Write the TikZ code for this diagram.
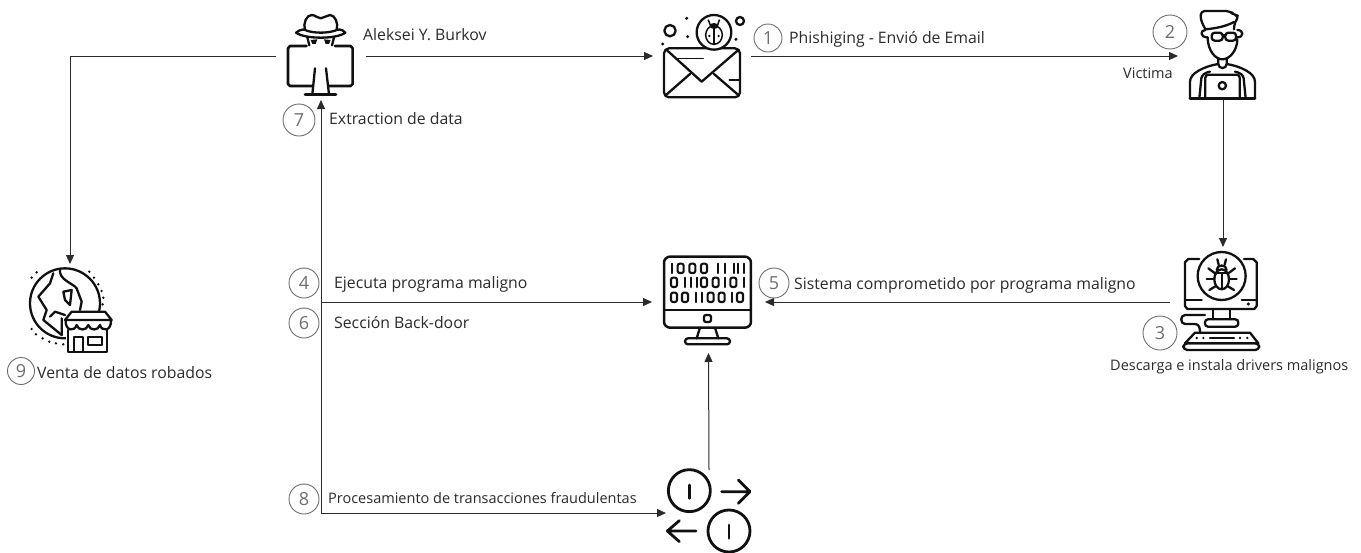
\documentclass[tikz,border=0pt]{standalone}
\usepackage{fontspec}
\setmainfont{Open Sans}
\usetikzlibrary{arrows.meta}
\definecolor{ink}{HTML}{111111}
\definecolor{txt}{HTML}{2B2B2B}
\definecolor{ringc}{HTML}{6E6E6E}
\newcommand{\bz}[2]{\draw[rounded corners=2pt,line width=2.1pt] (#1-9,#2-14) rectangle (#1+9,#2+14);}
\newcommand{\bi}[2]{\draw[line width=2.1pt,line cap=round] (#1,#2-14) -- (#1,#2+14);}
\tikzset{
 anchorbox/.style={inner sep=0pt,outer sep=0pt,minimum width=#1},
 conn/.style={draw=txt,line width=1pt,-{Triangle[length=9pt,width=8pt]}},
 lbl/.style={anchor=base west,inner sep=0pt,text=txt,font=\fontsize{15.8}{18}\selectfont},
 lblsmall/.style={lbl,font=\fontsize{14.5}{17}\selectfont},
 ring/.style={circle,draw=ringc,line width=0.9pt,inner sep=0pt,minimum size=#1,text=ringc,font=\fontsize{18}{19}\selectfont},
 icon/.style={x=0.3333pt,y=-0.3333pt,draw=ink,line width=2.3pt,line join=round,line cap=round},
}
\begin{document}
\begin{tikzpicture}[x=1pt,y=-1pt]
\useasboundingbox (0,0) rectangle (1361,552);
\fill[white] (0,0) rectangle (1361,552);
% anchor nodes for the icons
\node[anchorbox=90pt,minimum height=88pt] (hacker) at (321,56) {};
\node[anchorbox=98pt,minimum height=88pt] (mail) at (702,56) {};
\node[anchorbox=90pt,minimum height=88pt] (victim) at (1223,56) {};
\node[anchorbox=106pt,minimum height=110pt] (bugpc) at (1223,302) {};
\node[anchorbox=113pt,minimum height=102pt] (screen) at (708.5,302) {};
\node[anchorbox=86pt,minimum height=86pt] (trans) at (709,513) {};
\node[anchorbox=80pt,minimum height=72pt] (sale) at (70,300) {};
\coordinate (busmid) at (321,302);
\coordinate (buslow) at (321,513);
% connectors
\draw[conn] (hacker.west) -| (sale.north);
\draw[conn] (hacker.east) -- (mail.west);
\draw[conn] (mail.east) -- (victim.west);
\draw[conn] (victim.south) -- (bugpc.north);
\draw[conn] (bugpc.west) -- (screen.east);
\draw[conn] (busmid) -- (screen.west);
\draw[conn] (buslow) -- (hacker.south);
\draw[conn] (buslow) -- (trans.west);
\draw[conn] (trans.north) -- (screen.south);
% hacker icon
\begin{scope}[shift={(260,0)},icon]
\draw (165,205) -- (157,283) (198,205) -- (207,283);
\draw[line width=2.8pt] (135,283) -- (228,283);
\draw[line width=2.6pt] (157,258) -- (90,258) -- (84,252) -- (84,145) -- (90,138) -- (140,138);
\draw[line width=2.6pt] (207,258) -- (272,258) -- (278,252) -- (278,145) -- (272,138) -- (225,138);
\draw (135,90) .. controls (128,70) and (140,45) .. (155,45) .. controls (168,45) and (170,55) .. (182,55) .. controls (194,55) and (198,45) .. (210,45) .. controls (225,45) and (236,70) .. (230,90);
\draw (108,98) .. controls (125,85) and (135,88) .. (140,92) .. controls (165,100) and (200,100) .. (225,92) .. controls (232,88) and (245,85) .. (256,98) .. controls (230,118) and (135,118) .. (108,98);
\draw (142,112) -- (148,136) (222,112) -- (216,136);
\fill[ink] (152,120) -- (172,118) -- (167,132) -- (157,132) -- cycle (212,120) -- (192,118) -- (197,132) -- (207,132) -- cycle;
\end{scope}
% mail icon
\begin{scope}[shift={(640,0)},icon]
\draw[rounded corners=5pt] (72,145) rectangle (300,292);
\draw (80,150) -- (185,245) -- (295,150);
\draw (78,285) -- (150,222) (295,285) -- (222,222);
\draw[line width=1.5pt] (110,175) -- (190,175) (268,240) -- (300,240);
\draw[fill=white] (222,97) circle (52);
\draw[line width=1.5pt] (222,105) ellipse (25 and 28);
\draw[line width=1.5pt] (222,77) -- (222,133);
\draw[line width=1.5pt] (205,60) -- (212,78) (238,60) -- (232,78);
\fill[ink] (222,78) ellipse (13 and 9);
\fill[ink] (208,108) circle (4) (236,108) circle (4);
\draw (90,92) circle (17) (300,63) circle (12);
\fill[ink] (140,55) circle (5) (143,110) circle (5) (68,132) circle (5) (288,118) circle (5);
\end{scope}
% victim icon
\begin{scope}[shift={(1130,0)},icon]
\draw[rounded corners=4pt] (226,88) -- (212,60) -- (212,33) -- (300,33) -- (312,45) -- (328,48) -- (314,66) -- (312,88);
\draw (226,88) .. controls (260,85) and (290,78) .. (312,66);
\draw (226,90) .. controls (210,90) and (210,112) .. (232,112);
\draw (322,90) .. controls (342,90) and (342,112) .. (322,112);
\draw[rounded corners=3pt] (245,98) rectangle (278,122) (286,98) rectangle (318,122);
\draw (278,105) -- (286,105);
\draw (233,112) .. controls (233,150) and (255,178) .. (277,178) .. controls (300,178) and (322,150) .. (322,118);
\draw (265,175) -- (265,192) .. controls (265,208) and (290,208) .. (290,192) -- (290,175);
\draw (180,295) -- (180,245) .. controls (180,220) and (220,200) .. (264,192);
\draw (375,295) -- (375,245) .. controls (375,220) and (335,200) .. (291,192);
\draw[line width=2.8pt] (180,295) -- (375,295);
\draw (208,295) -- (214,235) .. controls (216,225) and (224,218) .. (240,215);
\draw (347,295) -- (341,235) .. controls (339,225) and (331,218) .. (315,215);
\draw[rounded corners=3pt] (226,295) -- (226,224) -- (329,224) -- (329,295);
\draw (277,257) circle (11);
\end{scope}
% infected computer icon
\begin{scope}[shift={(1160,240)},icon]
\draw (118,57) -- (85,57) -- (75,67) -- (75,198) -- (82,207) -- (283,207) -- (290,198) -- (290,67) -- (280,57) -- (252,57);
\draw (75,180) -- (125,180) (245,180) -- (290,180);
\fill[ink] (265,192) circle (5);
\draw (185,108) circle (72);
\draw (185,118) ellipse (22 and 30);
\draw (165,100) -- (205,100);
\draw[line width=1.7pt] (185,100) -- (185,147);
\draw (170,90) .. controls (170,72) and (200,72) .. (200,90);
\draw (172,58) -- (176,74) (198,58) -- (194,74);
\draw (165,100) -- (145,85) (205,100) -- (225,85);
\draw (162,118) -- (140,118) (208,118) -- (230,118);
\draw (168,138) -- (148,150) (202,138) -- (222,150);
\draw (160,207) -- (160,238) (210,207) -- (210,238);
\draw[rounded corners=3pt] (135,238) rectangle (235,260);
\draw (135,225) -- (75,225) .. controls (60,225) and (60,252) .. (75,252) -- (105,252) .. controls (118,252) and (120,265) .. (120,278);
\draw (105,278) -- (270,278) -- (295,310) -- (75,310) -- cycle;
\draw[rounded corners=4pt] (70,310) rectangle (298,330);
\fill[ink] (110,294) circle (4) (130,294) circle (4) (240,294) circle (4) (262,294) circle (4);
\draw[line width=2.4pt] (150,294) -- (222,294);
\end{scope}
% binary screen icon
\begin{scope}[shift={(650,245)},icon]
\draw[rounded corners=6pt,line width=2.5pt] (42,35) rectangle (303,248);
\draw[line width=2.5pt] (42,195) -- (303,195);
\draw[rounded corners=2pt] (162,210) rectangle (183,231);
\bi{65}{70}\bz{92}{70}\bz{127}{70}\bz{162}{70}\bi{203}{70}\bi{226}{70}\bi{252}{70}\bi{265}{70}\bi{281}{70}
\bz{72}{112}\bi{105}{112}\bi{122}{112}\bi{140}{112}\bz{162}{112}\bz{197}{112}\bi{225}{112}\bz{250}{112}\bi{281}{112}
\bz{72}{157}\bz{105}{157}\bi{138}{157}\bi{155}{157}\bz{182}{157}\bz{215}{157}\bi{245}{157}\bz{270}{157}
\draw (150,248) -- (140,280) (195,248) -- (205,280);
\draw[rounded corners=3pt] (105,280) rectangle (240,298);
\end{scope}
% transaction icon
\begin{scope}[shift={(650,460)},icon]
\draw[line width=2.8pt] (118,92) circle (63) (237,213) circle (63);
\draw[line width=2.8pt] (118,75) -- (118,115) (237,195) -- (237,235);
\draw[line width=2.8pt] (215,95) -- (298,95) (265,60) -- (300,95) -- (265,130);
\draw[line width=2.8pt] (138,213) -- (55,213) (88,182) -- (52,213) -- (88,245);
\end{scope}
% shop and globe icon
\begin{scope}[shift={(0,255)},icon]
\draw (195,145) circle (105);
\draw (160,55) -- (150,85) -- (115,125) -- (140,165) -- (130,195) -- (185,240);
\draw (180,42) .. controls (175,75) and (220,85) .. (230,100) -- (245,140) -- (240,165);
\draw (150,185) -- (165,170) -- (195,180) (185,190) -- (185,240);
\draw (190,110) -- (215,105) -- (210,150) -- (195,135) -- cycle;
\fill[white] (198,168) rectangle (335,292);
\draw (215,170) -- (315,170) -- (335,195) -- (195,195) -- cycle;
\draw (197,195) .. controls (195,230) and (225,230) .. (230,210) .. controls (235,228) and (260,228) .. (265,210) .. controls (270,228) and (295,228) .. (300,210) .. controls (305,230) and (335,230) .. (333,195);
\draw (205,225) -- (205,290) -- (320,290) -- (320,225);
\draw (222,290) -- (222,245) -- (250,245) -- (250,290);
\draw (265,245) rectangle (305,270);
\fill[ink] (110,52) circle (4) (95,68) circle (4) (268,50) circle (4) (282,68) circle (4) (295,88) circle (4) (305,108) circle (4) (310,128) circle (4) (308,148) circle (4) (95,222) circle (4) (108,238) circle (4) (128,250) circle (4) (148,260) circle (4) (168,265) circle (4) (190,268) circle (4);
\end{scope}
% numbered rings
\node[ring=28pt] (n1) at (768,38) {1};
\node[ring=34pt] (n2) at (1170,32) {2};
\node[ring=34pt] (n3) at (1160,333) {3};
\node[ring=30pt] (n4) at (304,283) {4};
\node[ring=30pt] (n5) at (774,283) {5};
\node[ring=30pt] (n6) at (304,323) {6};
\node[ring=32pt] (n7) at (299,120) {7};
\node[ring=30pt] (n8) at (304,499) {8};
\node[ring=27pt] (n9) at (21,371) {9};
% labels
\node[lbl] (t1) at (789,43) {Phishiging - Envió de Email};
\node[lblsmall] (t2) at (1123,78) {Victima};
\node[lblsmall] (t3) at (1110,370) {Descarga e instala drivers malignos};
\node[lbl] (t4) at (334,288) {Ejecuta programa maligno};
\node[lbl] (t5) at (794,289) {Sistema comprometido por programa maligno};
\node[lbl] (t6) at (334,328) {Sección Back-door};
\node[lbl] (t7) at (329,124) {Extraction de data};
\node[lblsmall] (t8) at (328,503) {Procesamiento de transacciones fraudulentas};
\node[lbl] (t9) at (37,378) {Venta de datos robados};
\node[lbl] (t0) at (363,40) {Aleksei Y. Burkov};
\end{tikzpicture}
\end{document}
